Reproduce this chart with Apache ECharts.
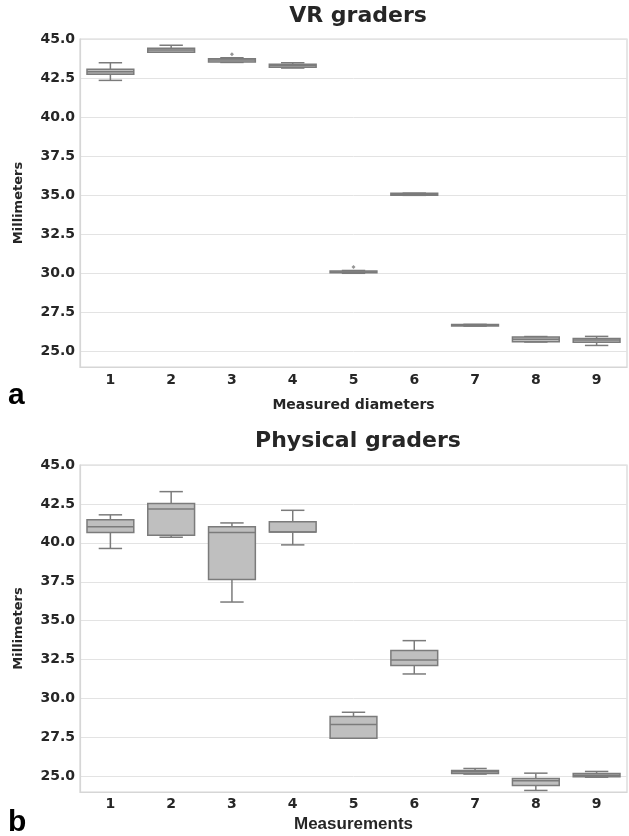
<!DOCTYPE html>
<html>
<head>
<meta charset="utf-8">
<script src="https://cdn.jsdelivr.net/npm/echarts@6/dist/echarts.min.js"></script>
<style>html,body{margin:0;padding:0;background:#fff;}#c{width:629px;height:836px;}</style>
</head>
<body>
<div id="c"></div>
<script>
const categories = ['1','2','3','4','5','6','7','8','9'];
const yRange = {min: 24, max: 45};
const yTickValues = [25.0, 27.5, 30.0, 32.5, 35.0, 37.5, 40.0, 42.5, 45.0];

// VR graders: [whisker low, Q1, median, Q3, whisker high]
const vrMin = [42.35, 44.15, 43.50, 43.14, 30.00, 34.99, 26.62, 25.60, 25.38];
const vrQ1  = [42.74, 44.15, 43.53, 43.19, 30.03, 35.00, 26.63, 25.62, 25.58];
const vrMed = [42.90, 44.30, 43.65, 43.30, 30.08, 35.06, 26.67, 25.77, 25.73];
const vrQ3  = [43.06, 44.40, 43.74, 43.38, 30.15, 35.12, 26.72, 25.92, 25.83];
const vrMax = [43.48, 44.60, 43.80, 43.48, 30.18, 35.13, 26.73, 25.95, 25.96];
const vrOutIdx = [2, 4];
const vrOutVal = [44.02, 30.40];

// Physical graders
const phMin = [39.64, 40.36, 36.20, 39.87, 27.45, 31.58, 25.15, 24.10, 24.95];
const phQ1  = [40.66, 40.49, 37.65, 40.69, 27.45, 32.13, 25.19, 24.42, 24.98];
const phMed = [41.03, 42.18, 40.66, 40.69, 28.33, 32.48, 25.30, 24.72, 25.08];
const phQ3  = [41.49, 42.52, 41.03, 41.35, 28.85, 33.08, 25.38, 24.87, 25.19];
const phMax = [41.80, 43.29, 41.28, 42.09, 29.12, 33.72, 25.51, 25.21, 25.32];

const FILL = '#bfbfbf', EDGE = '#7b7b7b', TXT = '#262626', GRID = '#e3e3e3', SPINE = '#d6d6d6';
const FONT = 'DejaVu Sans';

function rows(mn, q1, md, q3, mx) {
  return categories.map((c, i) => [i, mn[i], q1[i], md[i], q3[i], mx[i]]);
}

function renderBox(params, api) {
  const i = api.value(0);
  const bw = api.size([1, 0])[0] * 0.77;
  const cx = api.coord([i, 0])[0];
  const yMin = api.coord([i, api.value(1)])[1];
  const yQ1 = api.coord([i, api.value(2)])[1];
  const yMed = api.coord([i, api.value(3)])[1];
  const yQ3 = api.coord([i, api.value(4)])[1];
  const yMax = api.coord([i, api.value(5)])[1];
  const ln = {stroke: EDGE, lineWidth: 1.5};
  const cap = bw / 4;
  return {
    type: 'group',
    children: [
      {type: 'line', shape: {x1: cx, y1: yQ3, x2: cx, y2: yMax}, style: ln},
      {type: 'line', shape: {x1: cx, y1: yQ1, x2: cx, y2: yMin}, style: ln},
      {type: 'line', shape: {x1: cx - cap, y1: yMax, x2: cx + cap, y2: yMax}, style: ln},
      {type: 'line', shape: {x1: cx - cap, y1: yMin, x2: cx + cap, y2: yMin}, style: ln},
      {type: 'rect', shape: {x: cx - bw / 2, y: yQ3, width: bw, height: Math.max(yQ1 - yQ3, 0.5)},
        style: {fill: FILL, stroke: EDGE, lineWidth: 1.5}},
      {type: 'line', shape: {x1: cx - bw / 2, y1: yMed, x2: cx + bw / 2, y2: yMed}, style: ln}
    ]
  };
}

function xAxis(gridIndex, name, nameSize, nameFont, nameGap, labelMargin) {
  return {
    type: 'category', gridIndex: gridIndex, data: categories, boundaryGap: true,
    axisLine: {show: true, lineStyle: {color: SPINE, width: 1.2}},
    axisTick: {show: false},
    axisLabel: {color: TXT, fontFamily: FONT, fontWeight: 'bold', fontSize: 14, margin: labelMargin},
    name: name, nameLocation: 'middle', nameGap: nameGap,
    nameTextStyle: {color: TXT, fontFamily: nameFont, fontWeight: 'bold', fontSize: nameSize}
  };
}
function yAxis(gridIndex) {
  return {
    type: 'value', gridIndex: gridIndex, min: yRange.min, max: yRange.max,
    axisLine: {show: true, lineStyle: {color: SPINE, width: 1.2}},
    axisTick: {show: false, customValues: yTickValues},
    axisLabel: {color: TXT, fontFamily: FONT, fontWeight: 'bold', fontSize: 14, margin: 5,
      customValues: yTickValues, formatter: v => Number(v).toFixed(1)},
    splitLine: {show: true, customValues: yTickValues, lineStyle: {color: GRID, width: 1}},
    name: 'Millimeters', nameLocation: 'middle', nameGap: 55, nameRotate: 90,
    nameTextStyle: {color: TXT, fontFamily: FONT, fontWeight: 'bold', fontSize: 13}
  };
}

const chart = echarts.init(document.getElementById('c'), null, {renderer: 'canvas'});
chart.setOption({
  backgroundColor: '#fff',
  animation: false,
  title: [
    {text: 'VR graders', left: 353, top: 0, textAlign: 'center',
      textStyle: {color: TXT, fontFamily: FONT, fontWeight: 'bold', fontSize: 22}},
    {text: 'Physical graders', left: 353, top: 425, textAlign: 'center',
      textStyle: {color: TXT, fontFamily: FONT, fontWeight: 'bold', fontSize: 22}},
    {text: 'a', left: 3, top: 376, textStyle: {color: '#000', fontFamily: 'Liberation Sans', fontWeight: 'bold', fontSize: 30}},
    {text: 'b', left: 3, top: 803, textStyle: {color: '#000', fontFamily: 'Liberation Sans', fontWeight: 'bold', fontSize: 30}}
  ],
  grid: [
    {left: 80, top: 39, width: 547, height: 328, show: true, borderColor: SPINE, borderWidth: 1.2, backgroundColor: 'transparent'},
    {left: 80, top: 465, width: 547, height: 327, show: true, borderColor: SPINE, borderWidth: 1.2, backgroundColor: 'transparent'}
  ],
  xAxis: [
    xAxis(0, 'Measured diameters', 14, FONT, 31, 6),
    xAxis(1, 'Measurements', 17, 'Liberation Sans', 24, 5)
  ],
  yAxis: [yAxis(0), yAxis(1)],
  series: [
    {type: 'custom', xAxisIndex: 0, yAxisIndex: 0, renderItem: renderBox,
      encode: {x: 0, y: [1, 2, 3, 4, 5]}, data: rows(vrMin, vrQ1, vrMed, vrQ3, vrMax), z: 3},
    {type: 'scatter', xAxisIndex: 0, yAxisIndex: 0, symbol: 'diamond', symbolSize: 4,
      itemStyle: {color: EDGE}, data: vrOutIdx.map((k, j) => [k, vrOutVal[j]]), z: 4},
    {type: 'custom', xAxisIndex: 1, yAxisIndex: 1, renderItem: renderBox,
      encode: {x: 0, y: [1, 2, 3, 4, 5]}, data: rows(phMin, phQ1, phMed, phQ3, phMax), z: 3}
  ]
});
</script>
</body>
</html>
